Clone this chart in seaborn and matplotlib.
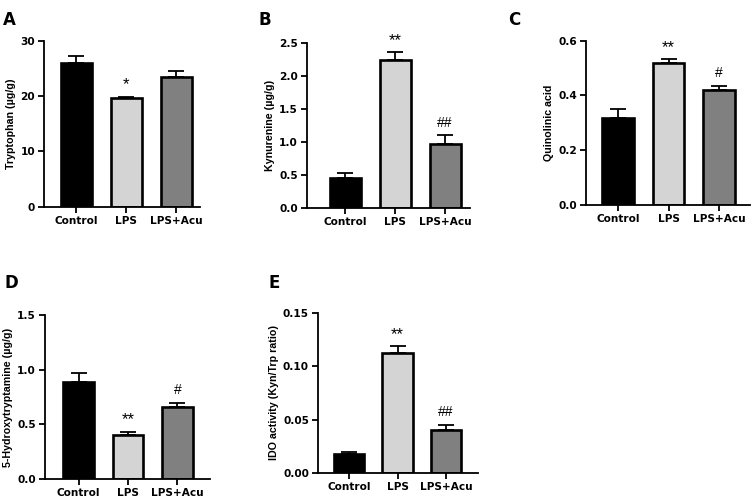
import matplotlib
matplotlib.use("Agg")
import matplotlib.pyplot as plt
import pandas as pd
import numpy as np
import seaborn as sb

groups = ["Control", "LPS", "LPS+Acu"]
colors = ["#000000", "#d4d4d4", "#808080"]

trp = [25.9, 19.6, 23.4]
trp_err = [1.4, 0.3, 1.2]
kyn = [0.465, 2.24, 0.975]
kyn_err = [0.065, 0.13, 0.13]
quin = [0.316, 0.517, 0.42]
quin_err = [0.033, 0.015, 0.015]
ht = [0.89, 0.40, 0.655]
ht_err = [0.08, 0.033, 0.043]
ido = [0.018, 0.1125, 0.040]
ido_err = [0.0017, 0.0065, 0.0053]

ylabels = ["Tryptophan (µg/g)", "Kynurenine (µg/g)", "Quinolinic acid",
           "5-Hydroxytryptamine (µg/g)", "IDO activity (Kyn/Trp ratio)"]
yticks = [[0, 10, 20, 30], [0.0, 0.5, 1.0, 1.5, 2.0, 2.5], [0.0, 0.2, 0.4, 0.6],
          [0.0, 0.5, 1.0, 1.5], [0.00, 0.05, 0.10, 0.15]]
ytick_labels = [["0", "10", "20", "30"], ["0.0", "0.5", "1.0", "1.5", "2.0", "2.5"],
                ["0.0", "0.2", "0.4", "0.6"], ["0.0", "0.5", "1.0", "1.5"],
                ["0.00", "0.05", "0.10", "0.15"]]
marks = [["", "*", ""], ["", "**", "##"], ["", "**", "#"], ["", "**", "#"], ["", "**", "##"]]
letters = ["A", "B", "C", "D", "E"]

sb.set_style("ticks")
plt.rcParams["font.family"] = ["DejaVu Sans"]
plt.rcParams["font.weight"] = "bold"
for k in ["text.color", "axes.labelcolor", "xtick.color", "ytick.color", "axes.edgecolor"]:
    plt.rcParams[k] = "black"

W, H = 753, 501
fig = plt.figure(figsize=(W / 100, H / 100), dpi=100)

# axes boxes in pixels: left, top, right, bottom, xlim
boxes = [(44, 40.7, 200, 206.7, (-0.64, 2.48)),
         (306.7, 43.3, 470, 208.3, (-0.77, 2.5)),
         (586, 40.7, 750, 205, (-0.63, 2.61)),
         (45, 315, 210, 479, (-0.68, 2.66)),
         (318, 313, 478, 473, (-0.64, 2.66))]
letter_pos = [(3, 20), (258, 20), (508, 20), (5, 283), (268, 283)]

data = [(trp, trp_err), (kyn, kyn_err), (quin, quin_err), (ht, ht_err), (ido, ido_err)]

for i, (vals, errs) in enumerate(data):
    l, t, r, b, xl = boxes[i]
    ax = fig.add_axes([l / W, 1 - b / H, (r - l) / W, (b - t) / H])
    df = pd.DataFrame({"group": groups, "value": vals})
    sb.barplot(data=df, x="group", y="value", hue="group", palette=colors,
               width=0.62, edgecolor="black", linewidth=1.9, legend=False,
               ax=ax, zorder=2)
    ax.errorbar(range(3), vals, yerr=[[0, 0, 0], errs], fmt="none",
                ecolor="black", elinewidth=1.3, capsize=6, capthick=1.3, zorder=1)
    top = yticks[i][-1]
    for j, m in enumerate(marks[i]):
        if m:
            star = "*" in m
            ax.text(j, vals[j] + errs[j] + top * (0.025 if star else 0.035), m,
                    ha="center", va="bottom", fontsize=12 if star else 10,
                    fontweight="normal", family="Liberation Sans")
    ax.set_ylim(0, top)
    ax.set_xlim(*xl)
    ax.set_yticks(yticks[i])
    ax.set_yticklabels(ytick_labels[i])
    ax.set_xlabel("")
    ax.set_ylabel(ylabels[i], fontsize=7.7, fontweight="bold",
                  family="Liberation Sans", labelpad=3)
    ax.tick_params(labelsize=7.6, width=1.3, length=4, pad=2.5)
    for s in ["left", "bottom"]:
        ax.spines[s].set_linewidth(1.3)
    sb.despine(ax=ax)
    fig.text(letter_pos[i][0] / W, 1 - letter_pos[i][1] / H, letters[i],
             fontsize=12, fontweight="bold", va="center")

fig.savefig("out.png", dpi=100)
